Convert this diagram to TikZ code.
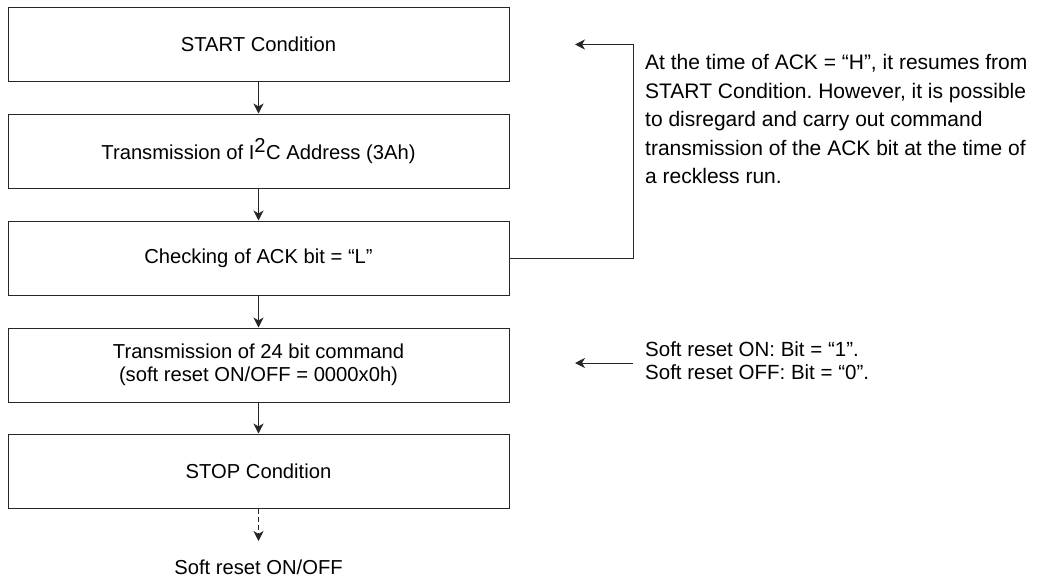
\documentclass[tikz,border=0pt]{standalone}
\usepackage{fontspec}
\setmainfont{Liberation Sans}
\usetikzlibrary{arrows.meta,positioning}
\frenchspacing
\begin{document}
\begin{tikzpicture}[x=1pt,y=-1pt,
  stepbox/.style={draw=black!85,line width=1pt,minimum width=501pt,minimum height=74pt,inner sep=0pt,align=center,font=\fontsize{20.2}{23.5}\selectfont},
  conn/.style={draw=black!85,line width=1pt,-{Stealth[length=10pt,width=10pt,inset=3pt]}},
  note/.style={align=left,inner sep=0pt,anchor=west}]
\useasboundingbox (0,0) rectangle (1039,578);
\node[stepbox] (b1) at (258.5,44.5) {START Condition};
\node[stepbox] (b2) at (258.5,151) {Transmission of I\textsuperscript{\fontsize{20.2}{23}\selectfont 2}C Address (3Ah)};
\node[stepbox] (b3) at (258.5,258) {Checking of ACK bit = “L”};
\node[stepbox] (b4) at (258.5,365) {Transmission of 24 bit command\\(soft reset ON/OFF = 0000x0h)};
\node[stepbox] (b5) at (258.5,471) {STOP Condition};
\node[inner sep=0pt,font=\fontsize{20.2}{23}\selectfont] (out) at (258.5,567) {Soft reset ON/OFF};
\coordinate (dend) at (258.5,541);
\draw[conn] (b1) -- (b2);
\draw[conn] (b2) -- (b3);
\draw[conn] (b3) -- (b4);
\draw[conn] (b4) -- (b5);
\draw[conn,dashed,dash pattern=on 5pt off 3pt] (b5) -- (dend);
\coordinate (fbcorner) at (633,258);
\coordinate (fbtip) at (575,44.5);
\draw[conn] (b3.east) -- (fbcorner) |- (fbtip);
\node[note,font=\fontsize{21}{28.5}\selectfont] (n1) at (645,119) {At the time of ACK = “H”, it resumes from\\START Condition. However, it is possible\\to disregard and carry out command\\transmission of the ACK bit at the time of\\a reckless run.};
\coordinate (srtip) at (575,363);
\node[note,font=\fontsize{20.5}{23}\selectfont] (n2) at (645,361) {Soft reset ON: Bit = “1”.\\Soft reset OFF: Bit = “0”.};
\coordinate (srstart) at (633,363);
\draw[conn] (srstart) -- (srtip);
\end{tikzpicture}
\end{document}
